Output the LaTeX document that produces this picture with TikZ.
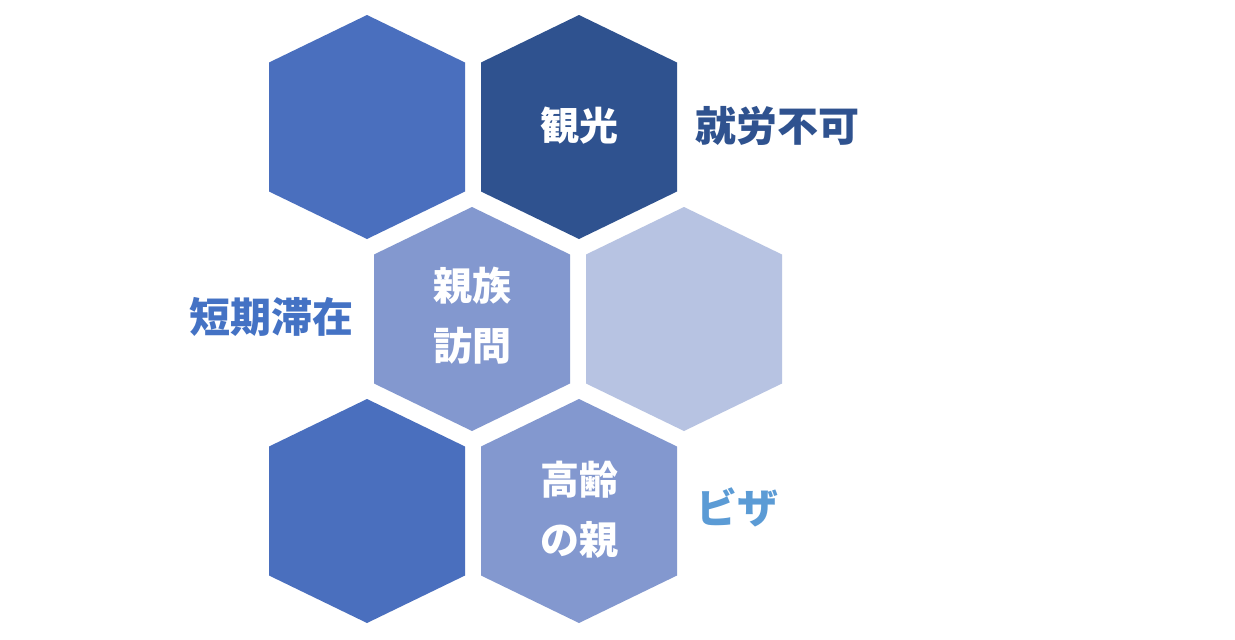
\documentclass[tikz,border=0pt]{standalone}
\usepackage{fontspec}
\newfontfamily\jp{Noto Sans CJK JP}
\definecolor{hexmid}{HTML}{4A6FBE}
\definecolor{hexdark}{HTML}{2F528F}
\definecolor{hexsoft}{HTML}{8398CF}
\definecolor{hexpale}{HTML}{B7C3E2}
\definecolor{lblblue}{HTML}{4472C4}
\definecolor{lblsky}{HTML}{5B9BD5}
\tikzset{
  hexa/.pic={\fill (0,-112) -- (98,-64.5) -- (98,64.5) -- (0,112) -- (-98,64.5) -- (-98,-64.5) -- cycle;},
  intext/.style={text=white, align=center, font=\jp\bfseries\fontsize{39}{60}\selectfont, inner sep=0pt},
  outtext/.style={align=center, font=\jp\bfseries\fontsize{41}{60}\selectfont, inner sep=0pt}
}
\begin{document}
\begin{tikzpicture}[x=1pt,y=-1pt]
\useasboundingbox (0,0) rectangle (1235,640);
\fill[white] (0,0) rectangle (1235,640);
\pic[fill=hexmid] at (367,127) {hexa};
\pic[fill=hexdark] at (579,127) {hexa};
\pic[fill=hexsoft] at (472,319) {hexa};
\pic[fill=hexpale] at (684,319) {hexa};
\pic[fill=hexmid] at (367,511) {hexa};
\pic[fill=hexsoft] at (579,511) {hexa};
\node[intext] (kanko) at (579,126) {観光};
\node[intext] (shinzoku) at (472,316) {親族\\訪問};
\node[intext] (koreioya) at (579,510) {高齢\\の親};
\node[outtext, text=hexdark] (shuro) at (777,126) {就労不可};
\node[outtext, text=lblblue] (tanki) at (271,317) {短期滞在};
\node[outtext, text=lblsky] (biza) at (737,507) {ビザ};
\end{tikzpicture}
\end{document}
